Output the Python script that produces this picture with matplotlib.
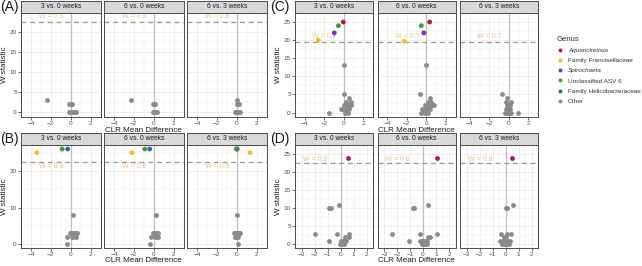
import matplotlib
matplotlib.use("Agg")
import matplotlib.pyplot as plt
from matplotlib.lines import Line2D

plt.rcParams['font.family'] = ['Liberation Sans', 'DejaVu Sans']

# ---- data ----
facets = ["3 vs. 0 weeks", "6 vs. 0 weeks", "6 vs. 3 weeks"]
genus_names = ["Aquarickettsia", "Family Francisellaceae", "Spirochaeta",
               "Unclassified ASV 6", "Family Helicobacteraceae", "Other"]
genus_colors = ["#B5173F", "#E8C31C", "#7A2EC4", "#3E9B3E", "#2D6E9C", "#8A8A8A"]

# W thresholds (dashed line) and labels per group
w_cut = {"A": 22.4, "B": 22.4, "C": 19.6, "D": 22.4}
w_text = {"A": "W = 0.8", "B": "W = 0.8", "C": "W = 0.7", "D": "W = 0.8"}
w_text_y = {"A": 23.9, "B": 21.1, "C": 21.0, "D": 23.4}

# group A, "Other" points
A1_x = [-2.4, -0.2, 0.0, 0.1, -0.2, -0.1, 0.0, 0.1, 0.2, 0.3, 0.4, 0.5]
A1_y = [3, 2, 2, 2, 0, 0, 0, 0, 0, 0, 0, 0]
A2_x = [-2.3, -0.05, 0.05, 0.15, -0.1, 0.0, 0.1, 0.2, 0.3]
A2_y = [3, 2, 2, 2, 0, 0, 0, 0, 0]
A3_x = [0.0, 0.0, 0.1, 0.2, -0.2, -0.1, 0.0, 0.1, 0.2, 0.3]
A3_y = [3, 2, 2, 2, 0, 0, 0, 0, 0, 0]

# group B
B1_x = [0.2, -0.1, 0.0, 0.1, 0.2, 0.3, 0.4, 0.5, 0.6, -0.35, 0.15, 0.2, 0.5, -0.4]
B1_y = [8, 3, 3, 3, 3, 3, 3, 3, 3, 2, 2, 2, 2, 0]
B1_hx = [-3.4, -0.85, -0.3]
B1_hy = [25, 26, 26]
B1_hg = ["Family Francisellaceae", "Unclassified ASV 6", "Family Helicobacteraceae"]
B2_x = [0.25, -0.1, 0.0, 0.1, 0.2, 0.3, 0.4, -0.3, 0.1, 0.2, 0.3, 0.4, -0.35]
B2_y = [8, 3, 3, 3, 3, 3, 3, 2, 2, 2, 2, 2, 0]
B2_hx = [-2.2, -0.9, -0.4]
B2_hy = [25, 26, 26]
B2_hg = ["Family Francisellaceae", "Unclassified ASV 6", "Family Helicobacteraceae"]
B3_x = [0.05, -0.3, -0.2, -0.1, 0.0, 0.1, 0.2, 0.3, -0.2, -0.1, 0.0, 0.1, 0.1]
B3_y = [8, 3, 3, 3, 3, 3, 3, 3, 2, 2, 2, 2, 0]
B3_hx = [0.05, -0.05, 1.35]
B3_hy = [26, 26, 25]
B3_hg = ["Family Helicobacteraceae", "Unclassified ASV 6", "Family Francisellaceae"]

# group C
C1_x = [0.0, 0.0, 0.55, 0.2, 0.7, 0.0, 0.1, 0.2, 0.3, 0.4, 0.5, 0.6, 0.75,
        -0.25, -0.1, 0.0, 0.1, 0.2, 0.3, 0.5, 0.15, 0.4, -1.5]
C1_y = [13, 5, 4, 3, 3, 2, 2, 2, 2, 2, 2, 2, 2, 1, 1, 1, 1, 1, 1, 1, 0, 0, 0]
C1_hx = [-0.05, -0.55, -0.97, -2.6]
C1_hy = [25, 24, 22, 20]
C1_hg = ["Aquarickettsia", "Unclassified ASV 6", "Spirochaeta", "Family Francisellaceae"]
C2_x = [0.0, -0.65, 0.35, 0.15, 0.5, -0.1, 0.1, 0.2, 0.3, 0.4, 0.5, 0.6, 0.8,
        -0.4, -0.2, 0.0, 0.1, 0.2, 0.4, -0.55, -0.1, 0.2]
C2_y = [13, 5, 4, 3, 3, 2, 2, 2, 2, 2, 2, 2, 2, 1, 1, 1, 1, 1, 1, 0, 0, 0]
C2_hx = [0.35, -0.5, -0.25, -2.25]
C2_hy = [25, 24, 22, 19.7]
C2_hg = ["Aquarickettsia", "Unclassified ASV 6", "Spirochaeta", "Family Francisellaceae"]
C3_x = [-0.7, -0.2, -0.28, 0.28, -0.2, -0.1, 0.0, 0.1, -0.3, -0.2, -0.1, 0.0, 0.1,
        -0.4, -0.3, -0.1, 0.0, 0.1, 0.2, 0.9]
C3_y = [5, 4, 3, 3, 2, 2, 2, 2, 1, 1, 1, 1, 1, 0, 0, 0, 0, 0, 0, 0]

# group D
D1_x = [-0.15, -0.85, -0.75, -2.0, -0.3, 0.68, 0.35, 0.62, -0.9,
        0.0, 0.1, 0.2, 0.3, 0.4, -0.05, 0.05, 0.15, 0.25]
D1_y = [11, 10, 10, 3, 3, 3, 2, 2, 1, 1, 1, 1, 1, 1, 0, 0, 0, 0]
D1_hx = [0.6]
D1_hy = [24]
D1_hg = ["Aquarickettsia"]
D2_x = [0.4, -0.75, -0.68, -2.35, -0.2, 1.1, 0.4, 0.52, -1.07,
        -0.2, -0.1, 0.0, 0.1, 0.2, 0.3, -0.1, 0.0, 0.1, 0.2, 0.3]
D2_y = [11, 10, 10, 3, 3, 3, 2, 2, 1, 1, 1, 1, 1, 1, 1, 0, 0, 0, 0, 0]
D2_hx = [1.1]
D2_hy = [24]
D2_hg = ["Aquarickettsia"]
D3_x = [0.55, 0.0, 0.15, -0.35, 0.1, 0.45, -0.15, 0.0,
        -0.4, -0.3, -0.2, -0.1, 0.0, 0.1, 0.2, 0.35, -0.25, -0.15, -0.05, 0.05, 0.15, 0.25]
D3_y = [11, 10, 10, 3, 3, 3, 2, 2, 1, 1, 1, 1, 1, 1, 1, 1, 0, 0, 0, 0, 0, 0]
D3_hx = [0.5]
D3_hy = [24]
D3_hg = ["Aquarickettsia"]

others = {"A": [(A1_x, A1_y), (A2_x, A2_y), (A3_x, A3_y)],
          "B": [(B1_x, B1_y), (B2_x, B2_y), (B3_x, B3_y)],
          "C": [(C1_x, C1_y), (C2_x, C2_y), (C3_x, C3_y)],
          "D": [(D1_x, D1_y), (D2_x, D2_y), (D3_x, D3_y)]}
highlights = {"A": [None, None, None],
              "B": [(B1_hx, B1_hy, B1_hg), (B2_hx, B2_hy, B2_hg), (B3_hx, B3_hy, B3_hg)],
              "C": [(C1_hx, C1_hy, C1_hg), (C2_hx, C2_hy, C2_hg), None],
              "D": [(D1_hx, D1_hy, D1_hg), (D2_hx, D2_hy, D2_hg), (D3_hx, D3_hy, D3_hg)]}

# ---- layout, pixel boxes ----
W, H = 642, 266
fig = plt.figure(figsize=(W / 100, H / 100), dpi=100)


def px_axes(x0, y0, x1, y1):
    return fig.add_axes([x0 / W, 1 - y1 / H, (x1 - x0) / W, (y1 - y0) / H])


left_cols = [(21, 100.5), (104, 183.5), (187, 266.5)]
right_cols = [(295, 373), (377.5, 455.5), (460, 538)]
layout = {
    "A": dict(cols=left_cols, strip=(1, 13), plot=(13, 117), ylim=(-1.25, 24.75),
              yticks=[0, 5, 10, 15, 20], xlim=(-4.1, 2.35), xticks=[-4, -2, 0, 2]),
    "B": dict(cols=left_cols, strip=(133, 145), plot=(145, 248), ylim=(-1.0, 27.1),
              yticks=[0, 10, 20], xlim=(-4.1, 2.35), xticks=[-4, -2, 0, 2]),
    "C": dict(cols=right_cols, strip=(1, 13), plot=(13, 117), ylim=(-1.23, 26.1),
              yticks=[0, 5, 10, 15, 20, 25], xlim=(-4.13, 2.31), xticks=[-4, -2, 0, 2]),
    "D": dict(cols=right_cols, strip=(133, 145), plot=(145, 248), ylim=(-1.0, 25.3),
              yticks=[0, 5, 10, 15, 20, 25], xlim=(-3.08, 2.26),
              xticks=[-3, -2, -1, 0, 1, 2]),
}

border = "#4D4D4D"
grid_c = "#EBEBEB"
cmap = dict(zip(genus_names, genus_colors))
pt = 12

for key, lay in layout.items():
    for i, (x0, x1) in enumerate(lay["cols"]):
        ax = px_axes(x0, lay["plot"][0], x1, lay["plot"][1])
        ax.set_xlim(*lay["xlim"])
        ax.set_ylim(*lay["ylim"])
        ax.set_xticks(lay["xticks"])
        step = lay["xticks"][1] - lay["xticks"][0]
        ax.set_xticks([t + step / 2 for t in lay["xticks"][:-1]] +
                      [lay["xticks"][0] - step / 2, lay["xticks"][-1] + step / 2], minor=True)
        ax.set_yticks(lay["yticks"])
        ystep = lay["yticks"][1] - lay["yticks"][0]
        ax.set_yticks([t + ystep / 2 for t in lay["yticks"]], minor=True)
        ax.grid(True, which="major", color=grid_c, lw=0.6, zorder=0)
        ax.grid(True, which="minor", color=grid_c, lw=0.35, zorder=0)
        ax.set_axisbelow(True)
        ax.tick_params(which="both", length=2, width=0.5, color="#333333",
                       labelsize=4.6, labelcolor="#4D4D4D", pad=1)
        ax.tick_params(which="minor", length=0)
        if i > 0:
            ax.tick_params(axis="y", which="major", length=0, labelleft=False)
        for s in ax.spines.values():
            s.set_color(border)
            s.set_linewidth(0.7)

        ax.axvline(0, color="#BEBEBE", lw=0.9, zorder=1)
        ax.axhline(w_cut[key], color="#9A9A9A", lw=0.9, ls=(0, (4, 3)), zorder=1)
        ax.text(-1.95, w_text_y[key], w_text[key], color="#F3C37E", fontsize=5,
                ha="center", va="center", zorder=2)

        ox, oy = others[key][i]
        ax.scatter(ox, oy, s=pt, color=cmap["Other"], lw=0, zorder=3)
        hl = highlights[key][i]
        if hl is not None:
            hx, hy, hg = hl
            ax.scatter(hx, hy, s=pt, color=[cmap[g] for g in hg], lw=0, zorder=4)

        # facet strip
        sax = px_axes(x0, lay["strip"][0], x1, lay["strip"][1])
        sax.set_facecolor("#D9D9D9")
        sax.set_xticks([])
        sax.set_yticks([])
        for s in sax.spines.values():
            s.set_color(border)
            s.set_linewidth(0.7)
        sax.text(0.5, 0.5, facets[i], ha="center", va="center", fontsize=4.8,
                 color="#1A1A1A", transform=sax.transAxes)

    # axis titles and group letter
    cx = (lay["cols"][0][0] + lay["cols"][-1][1]) / 2
    py0, py1 = lay["plot"]
    fig.text(cx / W, 1 - (py1 + 13) / H, "CLR Mean Difference", ha="center",
             va="center", fontsize=5.8, color="#1A1A1A")
    fig.text((lay["cols"][0][0] - 16) / W, 1 - (py0 + py1) / 2 / H, "W statistic",
             rotation=90, ha="center", va="center", fontsize=5.8, color="#1A1A1A")
    fig.text((lay["cols"][0][0] - 21 if key in "AB" else lay["cols"][0][0] - 25) / W,
             1 - (lay["strip"][0] - 1) / H, "(%s)" % key, ha="left", va="top",
             fontsize=10, color="#1A1A1A")

# legend
handles = [Line2D([], [], ls="none", marker="o", ms=2.8, color=c, mec="none")
           for c in genus_colors]
leg = fig.legend(handles, genus_names, title="Genus", loc="upper left",
                 bbox_to_anchor=(554 / W, 1 - 33 / H), frameon=False, fontsize=4.6,
                 title_fontsize=5.6, labelspacing=0.75, handletextpad=0.6,
                 handlelength=1.2, borderaxespad=0)
leg._legend_box.align = "left"
for t in leg.get_texts():
    t.set_color("#333333")
    if t.get_text() in ("Aquarickettsia", "Spirochaeta"):
        t.set_fontstyle("italic")
leg.get_title().set_color("#333333")

fig.savefig("out.png", dpi=100)
